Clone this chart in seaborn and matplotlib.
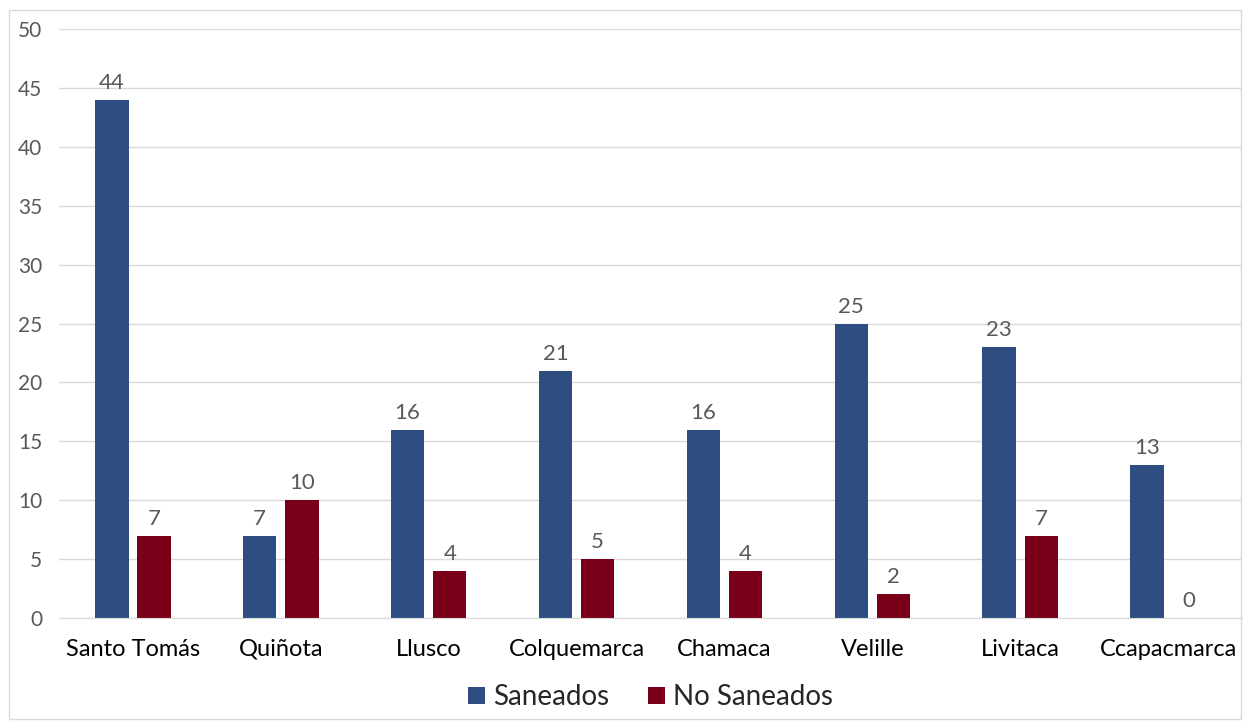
import matplotlib
matplotlib.use("Agg")
import matplotlib.pyplot as plt
import pandas as pd
import seaborn as sns
from matplotlib.patches import Rectangle

# data
districts = ["Santo Tomás", "Quiñota", "Llusco", "Colquemarca", "Chamaca",
             "Velille", "Livitaca", "Ccapacmarca"]
saneados = [44, 7, 16, 21, 16, 25, 23, 13]
no_saneados = [7, 10, 4, 5, 4, 2, 7, 0]
series = ["Saneados", "No Saneados"]
colors = ["#2E4E82", "#7A0019"]

df = pd.DataFrame({
    "district": districts * 2,
    "value": saneados + no_saneados,
    "serie": [series[0]] * len(districts) + [series[1]] * len(districts),
})

sns.set_style("white")
plt.rcParams["font.family"] = ["Lato", "DejaVu Sans"]

fig = plt.figure(figsize=(12.43, 7.21), dpi=100)
ax = fig.add_axes([59 / 1243, 1 - 618 / 721, (1242 - 59) / 1243, (618 - 29) / 721])

sns.barplot(data=df, x="district", y="value", hue="serie", palette=colors,
            width=0.57, gap=0.21, ax=ax, saturation=1, linewidth=0, legend=True)

for cont in ax.containers:
    ax.bar_label(cont, padding=5, fontsize=16, color="#595959")

ax.set_ylim(0, 50)
ax.set_yticks(range(0, 51, 5))
ax.yaxis.grid(True, color="#D9D9D9", linewidth=1)
ax.set_axisbelow(True)
ax.set_xlabel("")
ax.set_ylabel("")
for s in ["top", "right", "left"]:
    ax.spines[s].set_visible(False)
ax.spines["bottom"].set_color("#D9D9D9")
ax.tick_params(axis="y", length=0, labelsize=15, labelcolor="#595959", pad=12)
ax.tick_params(axis="x", length=0, labelsize=17, labelcolor="#000000", pad=27)
# same baseline for every district name
for lab in ax.get_xticklabels():
    lab.set_verticalalignment("baseline")

handles, labels = ax.get_legend_handles_labels()
ax.legend(handles, labels, loc="upper center", bbox_to_anchor=(0.5, -0.07),
          ncol=2, frameon=False, fontsize=20, handlelength=0.6, handleheight=0.6,
          handletextpad=0.3, columnspacing=1.4)

# thin outer frame around the chart
fig.patches.append(Rectangle((9 / 1243, 2 / 721), 1232 / 1243, 709 / 721,
                             transform=fig.transFigure, fill=False,
                             edgecolor="#D9D9D9", linewidth=1))

fig.savefig("out.png", dpi=100)
